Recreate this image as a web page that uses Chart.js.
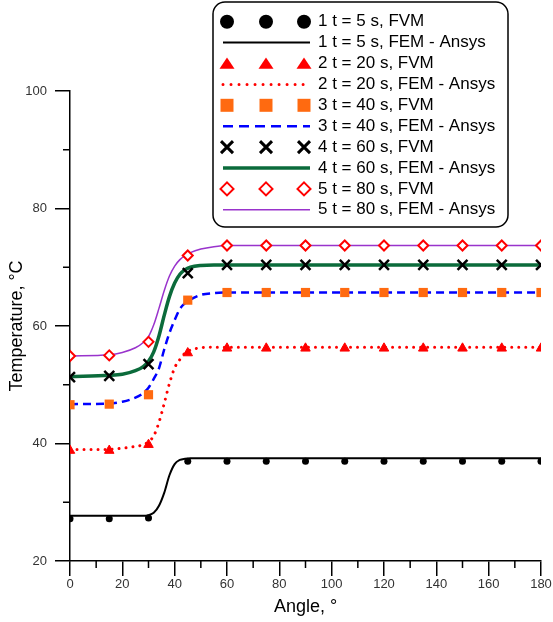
<!DOCTYPE html>
<html>
<head>
<meta charset="utf-8">
<script src="https://cdn.jsdelivr.net/npm/chart.js@4.4.1/dist/chart.umd.min.js"></script>
<style>
  html, body { margin: 0; padding: 0; background: #fff; }
  #wrap { width: 553px; height: 622px; }
</style>
</head>
<body>
<div id="wrap"><canvas id="myChart" width="553" height="622"></canvas></div>
<script>
// FVM points (every 15 degrees)
const angles = [0, 15, 30, 45, 60, 75, 90, 105, 120, 135, 150, 165, 180];
const fvm5s  = [27.2, 27.2, 27.3, 37.0, 37.0, 37.0, 37.0, 37.0, 37.0, 37.0, 37.0, 37.0, 37.0];
const fvm20s = [38.8, 38.8, 39.8, 55.4, 56.2, 56.2, 56.2, 56.2, 56.2, 56.2, 56.2, 56.2, 56.2];
const fvm40s = [46.6, 46.7, 48.3, 64.4, 65.7, 65.7, 65.7, 65.7, 65.7, 65.7, 65.7, 65.7, 65.7];
const fvm60s = [51.3, 51.5, 53.5, 69.0, 70.4, 70.4, 70.4, 70.4, 70.4, 70.4, 70.4, 70.4, 70.4];
const fvm80s = [54.9, 55.0, 57.3, 72.0, 73.7, 73.7, 73.7, 73.7, 73.7, 73.7, 73.7, 73.7, 73.7];

// FEM - Ansys curves
const femAngles = [0, 15, 20, 25, 28, 30, 32, 34, 36, 38, 40, 42, 44, 46, 50, 55, 60, 90, 120, 150, 180];
const fem5s  = [27.7, 27.7, 27.7, 27.7, 27.7, 27.8, 28.2, 29.4, 31.6, 34.6, 36.5, 37.2, 37.4, 37.5, 37.5, 37.5, 37.5, 37.5, 37.5, 37.5, 37.5];
const fem20s = [39.0, 39.0, 39.2, 39.5, 39.8, 40.3, 41.3, 43.6, 46.8, 50.2, 52.9, 54.3, 55.4, 55.9, 56.3, 56.4, 56.4, 56.4, 56.4, 56.4, 56.4];
const fem40s = [46.7, 46.8, 47.1, 47.8, 48.6, 49.5, 51.0, 52.8, 56.0, 58.8, 61.0, 62.9, 63.9, 64.5, 65.3, 65.6, 65.7, 65.7, 65.7, 65.7, 65.7];
const fem60s = [51.4, 51.6, 51.8, 52.4, 53.1, 54.0, 55.6, 58.3, 61.8, 65.0, 67.3, 68.8, 69.6, 70.0, 70.3, 70.4, 70.4, 70.4, 70.4, 70.4, 70.4];
const fem80s = [54.9, 55.1, 55.5, 56.3, 57.2, 58.2, 60.2, 63.0, 66.0, 68.5, 70.2, 71.3, 72.0, 72.5, 73.1, 73.5, 73.7, 73.7, 73.7, 73.7, 73.7];

const xTicks = [0, 20, 40, 60, 80, 100, 120, 140, 160, 180];
const yTicks = [20, 40, 60, 80, 100];

const labelsFvm = ["1 t = 5 s, FVM", "2 t = 20 s, FVM", "3 t = 40 s, FVM", "4 t = 60 s, FVM", "5 t = 80 s, FVM"];
const labelsFem = ["1 t = 5 s, FEM - Ansys", "2 t = 20 s, FEM - Ansys", "3 t = 40 s, FEM - Ansys", "4 t = 60 s, FEM - Ansys", "5 t = 80 s, FEM - Ansys"];

const FONT = "Arial, 'Liberation Sans', sans-serif";

function toXY(xs, ys) {
  return xs.map((x, i) => ({ x: x, y: ys[i] }));
}

const fvmStyles = [
  { pointStyle: "circle", pointRadius: 3.5, backgroundColor: "#000", borderColor: "#000", borderWidth: 0 },
  { pointStyle: "triangle", pointRadius: 5.5, backgroundColor: "#ff0000", borderColor: "#ff0000", borderWidth: 1 },
  { pointStyle: "rect", pointRadius: 6.5, backgroundColor: "#ff6a10", borderColor: "#ff6a10", borderWidth: 0 },
  { pointStyle: "crossRot", pointRadius: 7, backgroundColor: "#000", borderColor: "#000", borderWidth: 2.5 },
  { pointStyle: "rectRot", pointRadius: 5, backgroundColor: "#fff", borderColor: "#ff0000", borderWidth: 2 }
];

const femStyles = [
  { borderColor: "#000", borderWidth: 2, borderDash: [] },
  { borderColor: "#ff0000", borderWidth: 3, borderDash: [0.01, 7], borderCapStyle: "round" },
  { borderColor: "#0000ff", borderWidth: 2.5, borderDash: [8, 5] },
  { borderColor: "#0b6b3b", borderWidth: 3.5, borderDash: [] },
  { borderColor: "#9933cc", borderWidth: 1.5, borderDash: [] }
];

const fvmData = [fvm5s, fvm20s, fvm40s, fvm60s, fvm80s];
const femData = [fem5s, fem20s, fem40s, fem60s, fem80s];

const datasets = [];
// markers first so they are painted on top
fvmData.forEach((ys, i) => {
  const s = fvmStyles[i];
  datasets.push({
    label: labelsFvm[i],
    data: toXY(angles, ys),
    showLine: false,
    pointStyle: s.pointStyle,
    pointRadius: s.pointRadius,
    pointHoverRadius: s.pointRadius,
    pointBackgroundColor: s.backgroundColor,
    pointBorderColor: s.borderColor,
    pointBorderWidth: s.borderWidth
  });
});
femData.forEach((ys, i) => {
  const s = femStyles[i];
  datasets.push({
    label: labelsFem[i],
    data: toXY(femAngles, ys),
    showLine: true,
    pointRadius: 0,
    pointHoverRadius: 0,
    borderColor: s.borderColor,
    borderWidth: s.borderWidth,
    borderDash: s.borderDash,
    borderCapStyle: s.borderCapStyle || "butt",
    cubicInterpolationMode: "monotone",
    fill: false
  });
});

// minor tick marks halfway between the labelled ones
const minorTicks = {
  id: "minorTicks",
  afterDraw(chart) {
    const { ctx, scales: { x, y } } = chart;
    ctx.save();
    ctx.strokeStyle = "#000";
    ctx.lineWidth = 1.5;
    ctx.beginPath();
    for (let i = 0; i < xTicks.length - 1; i++) {
      const px = x.getPixelForValue((xTicks[i] + xTicks[i + 1]) / 2);
      ctx.moveTo(px, y.bottom);
      ctx.lineTo(px, y.bottom + 7);
    }
    for (let i = 0; i < yTicks.length - 1; i++) {
      const py = y.getPixelForValue((yTicks[i] + yTicks[i + 1]) / 2);
      ctx.moveTo(x.left, py);
      ctx.lineTo(x.left - 7, py);
    }
    ctx.stroke();
    ctx.restore();
  }
};

function drawMarker(ctx, style, cx, cy, r) {
  ctx.beginPath();
  if (style === "circle") {
    ctx.arc(cx, cy, r, 0, Math.PI * 2);
    ctx.fill();
  } else if (style === "triangle") {
    ctx.moveTo(cx, cy - r * 0.8);
    ctx.lineTo(cx + r, cy + r * 0.7);
    ctx.lineTo(cx - r, cy + r * 0.7);
    ctx.closePath();
    ctx.fill();
  } else if (style === "rect") {
    ctx.rect(cx - r, cy - r, 2 * r, 2 * r);
    ctx.fill();
  } else if (style === "crossRot") {
    ctx.moveTo(cx - r, cy - r);
    ctx.lineTo(cx + r, cy + r);
    ctx.moveTo(cx + r, cy - r);
    ctx.lineTo(cx - r, cy + r);
    ctx.stroke();
  } else if (style === "rectRot") {
    ctx.moveTo(cx, cy - r);
    ctx.lineTo(cx + r, cy);
    ctx.lineTo(cx, cy + r);
    ctx.lineTo(cx - r, cy);
    ctx.closePath();
    ctx.fill();
    ctx.stroke();
  }
}

// boxed legend: three markers / line sample + label
const boxLegend = {
  id: "boxLegend",
  afterDraw(chart) {
    const ctx = chart.ctx;
    const bx = 213, by = 2, bw = 295, bh = 225;
    ctx.save();
    ctx.beginPath();
    ctx.roundRect(bx, by, bw, bh, 12);
    ctx.fillStyle = "#fff";
    ctx.fill();
    ctx.lineWidth = 1.5;
    ctx.strokeStyle = "#000";
    ctx.stroke();

    const markerSize = [7, 7.5, 6.5, 6, 6.5];
    ctx.font = "17px " + FONT;
    ctx.textBaseline = "middle";
    for (let i = 0; i < 5; i++) {
      const yFvm = 21.7 + (2 * i) * 20.9;
      const yFem = 21.7 + (2 * i + 1) * 20.9;
      const s = fvmStyles[i];
      ctx.fillStyle = s.backgroundColor;
      ctx.strokeStyle = s.borderColor;
      ctx.lineWidth = s.pointStyle === "crossRot" ? 3 : 2;
      ctx.setLineDash([]);
      [227, 266, 304].forEach(mx => drawMarker(ctx, s.pointStyle, mx, yFvm, markerSize[i]));

      const f = femStyles[i];
      ctx.beginPath();
      ctx.strokeStyle = f.borderColor;
      ctx.lineWidth = f.borderWidth;
      ctx.lineCap = f.borderCapStyle || "butt";
      ctx.setLineDash(i === 1 ? [0.01, 8] : (i === 2 ? [10, 6] : f.borderDash));
      ctx.moveTo(223, yFem);
      ctx.lineTo(310, yFem);
      ctx.stroke();
      ctx.setLineDash([]);
      ctx.lineCap = "butt";

      ctx.fillStyle = "#000";
      ctx.fillText(labelsFvm[i], 318, yFvm);
      ctx.fillText(labelsFem[i], 318, yFem);
    }
    ctx.restore();
  }
};

Chart.defaults.font.family = FONT;

const chart = new Chart(document.getElementById("myChart"), {
  type: "scatter",
  data: { datasets: datasets },
  options: {
    responsive: false,
    animation: false,
    layout: { padding: { top: 91, right: 12, left: 0, bottom: 0 } },
    plugins: {
      legend: { display: false },
      tooltip: { enabled: false }
    },
    scales: {
      x: {
        type: "linear",
        min: xTicks[0],
        max: xTicks[xTicks.length - 1],
        afterBuildTicks: s => { s.ticks = xTicks.map(v => ({ value: v })); },
        afterFit: s => { s.height = 61; },
        ticks: { color: "#333", font: { size: 13 }, padding: 1, maxRotation: 0 },
        grid: { drawOnChartArea: false, drawTicks: true, tickLength: 15, color: "#000", lineWidth: 1.5 },
        border: { display: true, color: "#000", width: 1.5 },
        title: { display: true, text: "Angle, °", color: "#000", font: { size: 18 }, padding: { top: 0, bottom: 4 } }
      },
      y: {
        type: "linear",
        min: yTicks[0],
        max: yTicks[yTicks.length - 1],
        afterBuildTicks: s => { s.ticks = yTicks.map(v => ({ value: v })); },
        afterFit: s => { s.width = 70; },
        ticks: { color: "#333", font: { size: 13 }, padding: 8 },
        grid: { drawOnChartArea: false, drawTicks: true, tickLength: 15, color: "#000", lineWidth: 1.5 },
        border: { display: true, color: "#000", width: 1.5 },
        title: { display: true, text: "Temperature, °C", color: "#000", font: { size: 18 }, padding: { top: 6, bottom: 0 } }
      }
    }
  },
  plugins: [minorTicks, boxLegend]
});
</script>
</body>
</html>
